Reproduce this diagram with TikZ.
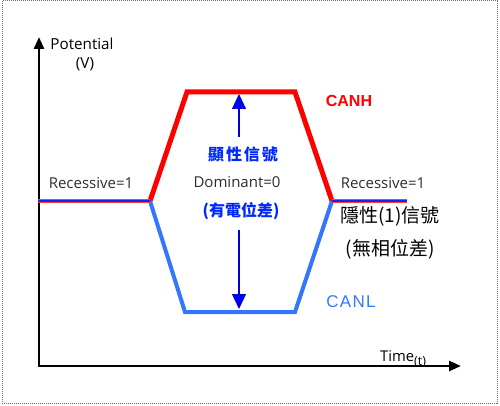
\documentclass[tikz,border=0pt]{standalone}
\usepackage{fontspec}
\setmainfont{Liberation Sans}
\newfontfamily\cjk{Noto Sans CJK TC}
\newfontfamily\uif{Open Sans}
\usetikzlibrary{arrows.meta}
\definecolor{canh}{RGB}{255,0,0}
\definecolor{canl}{RGB}{51,119,255}
\definecolor{sigblue}{RGB}{0,40,255}
\definecolor{txtgray}{RGB}{45,45,45}
\definecolor{framegray}{RGB}{110,110,110}
\begin{document}
\begin{tikzpicture}[x=1pt,y=-1pt,
  frame/.style={draw=framegray,line width=1pt,dash pattern=on 1pt off 1pt},
  axis/.style={line width=2.6pt,black},
  hline/.style={line width=5pt,canh,line join=miter},
  lline/.style={line width=4pt,canl,line join=miter},
  sigarrow/.style={line width=1.2pt,draw=blue!85!black,-{Triangle[width=14pt,length=15pt,fill=blue]}},
  lbl/.style={inner sep=0pt,text=txtgray,font=\uif\fontsize{15}{17}\selectfont},
  axlbl/.style={inner sep=0pt,text=black,font=\uif\fontsize{15.2}{17}\selectfont},
  cjkblue/.style={inner sep=0pt,text=sigblue,font=\cjk\bfseries\fontsize{16}{18}\selectfont},
  cjkblack/.style={inner sep=0pt,text=black,font=\cjk\fontsize{19}{22}\selectfont}]
\useasboundingbox (0,0) rectangle (500,406);
\draw[frame] (2,1) rectangle (497,403);
% axes
\coordinate (O) at (39,366);
\coordinate (ytip) at (39,37);
\coordinate (xtip) at (461,366);
\draw[axis,{Triangle[width=10pt,length=12pt]}-{Triangle[width=10pt,length=12pt]}] (ytip) -- (O) -- (xtip);
% waveform corners
\coordinate (L0) at (38,201);
\coordinate (A) at (150,201);
\coordinate (B) at (332,201);
\coordinate (R0) at (407,201);
\coordinate (H1) at (187,92);
\coordinate (H2) at (295,92);
\coordinate (L1) at (185,312);
\coordinate (L2) at (295,312);
\draw[hline] (A) -- (H1) -- (H2) -- (B);
\draw[lline] (A) -- (L1) -- (L2) -- (B);
\draw[line width=3.4pt,canh!75] (L0) -- (A) (B) -- (R0);
\draw[line width=1.6pt,blue!70!canl] (L0) -- (A) (B) -- (R0);
% signal arrows
\coordinate (a1) at (239,137);
\coordinate (up) at (239,94);
\coordinate (a2) at (239,230);
\coordinate (down) at (239,309);
\draw[sigarrow] (a1) -- (up);
\draw[sigarrow] (a2) -- (down);
% labels
\node[axlbl] (pot) at (82,44) {Potential};
\node[axlbl] (volt) at (85,64) {(V)};
\node[inner sep=0pt,text=canh,font=\bfseries\fontsize{16}{18}\selectfont] (canhl) at (349,101) {CANH};
\node[cjkblue,font=\cjk\bfseries\fontsize{16}{18}\selectfont\addfontfeature{LetterSpace=12}] (sig) at (243,154) {顯性信號};
\node[lbl] (rec1) at (91,183) {Recessive=1};
\node[lbl] (dom) at (237,182) {Dominant=0};
\node[lbl] (rec2) at (383,183) {Recessive=1};
\node[cjkblue] (diff) at (241,211) {(有電位差)};
\node[cjkblack] (rec3) at (390,216) {隱性(1)信號};
\node[cjkblack] (rec4) at (390,249) {(無相位差)};
\node[inner sep=0pt,text=canl,font=\fontsize{17}{19}\selectfont\addfontfeature{LetterSpace=8}] (canll) at (351,302) {CANL};
\node[inner sep=0pt,anchor=base west,font=\uif\fontsize{14.8}{17}\selectfont] (time) at (380,361) {Time\raisebox{-4pt}{\fontsize{12.5}{13}\selectfont(t)}};
\end{tikzpicture}
\end{document}
